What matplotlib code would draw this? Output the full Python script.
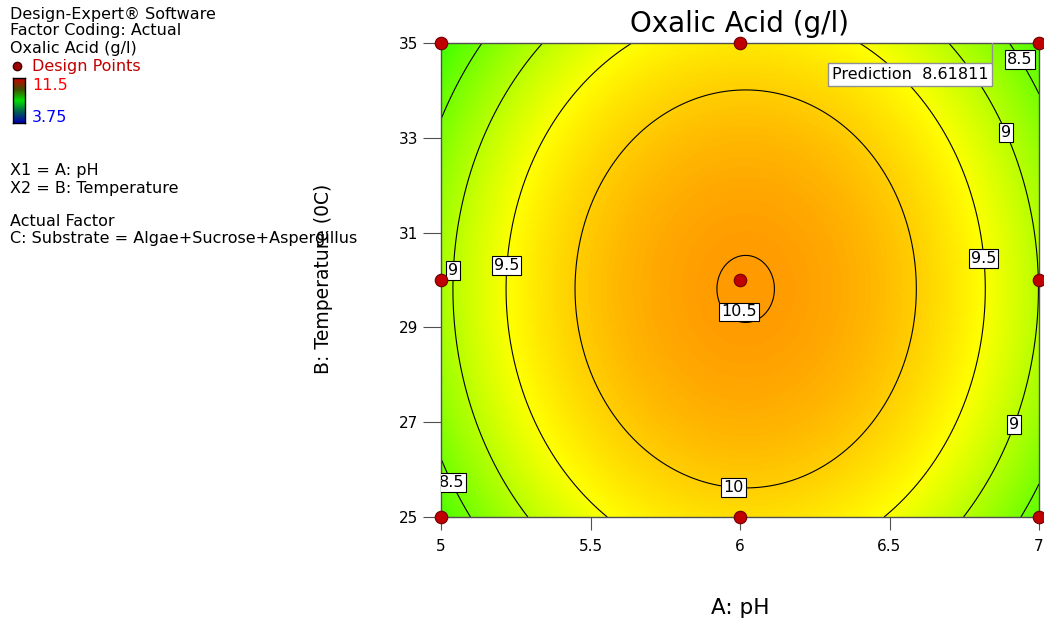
import numpy as np
import matplotlib
import matplotlib.pyplot as plt
from matplotlib.colors import LinearSegmentedColormap

matplotlib.use('Agg')

# factor ranges (actual units)
ph_range = [5.0, 7.0]
temp_range = [25.0, 35.0]

# fitted quadratic model in coded units (A = pH - 6, B = (T - 30) / 5)
b0 = 10.513
bA = 0.06
bB = -0.055
bAA = -1.58
bBB = -0.73
bAB = 0.0

# design points
design_ph = [5, 6, 7, 5, 6, 7, 5, 6, 7]
design_temp = [25, 25, 25, 30, 30, 30, 35, 35, 35]

contour_levels = [8.5, 9, 9.5, 10, 10.5]
color_low, color_high = 3.75, 11.5

x_ticks = [5, 5.5, 6, 6.5, 7]
y_ticks = [25, 27, 29, 31, 33, 35]

pred_ph, pred_temp, pred_value = 6.843, 35.0, 8.61811

# label spots for contour values
label_spots = [(6.0, 29.2), (5.98, 25.75), (5.214, 30.3), (6.81, 30.45),
               (5.047, 30.19), (6.886, 33.1), (6.926, 26.94),
               (6.943, 34.68), (5.067, 25.82)]

info_lines = ["Design-Expert\u00ae Software", "Factor Coding: Actual", "Oxalic Acid (g/l)"]
factor_lines = ["X1 = A: pH", "X2 = B: Temperature"]
actual_lines = ["Actual Factor", "C: Substrate = Algae+Sucrose+Aspergillus"]

W, H = 1044, 621
fig = plt.figure(figsize=(W / 100, H / 100), dpi=100)
ax = fig.add_axes([441 / W, 1 - 517 / H, 598 / W, 474 / H])

ph = np.linspace(ph_range[0], ph_range[1], 300)
temp = np.linspace(temp_range[0], temp_range[1], 300)
PH, T = np.meshgrid(ph, temp)
A = PH - 6.0
B = (T - 30.0) / 5.0
Z = b0 + bA * A + bB * B + bAA * A ** 2 + bBB * B ** 2 + bAB * A * B

cmap = LinearSegmentedColormap.from_list(
    'dx', [(0.0, '#0000FF'), (0.5, '#00FF00'), (0.745, '#FFFF00'),
           (0.88, '#FF9600'), (1.0, '#FF0000')])
ax.imshow(Z, origin='lower', extent=[ph_range[0], ph_range[1], temp_range[0], temp_range[1]],
          aspect='auto', cmap=cmap, vmin=color_low, vmax=color_high, interpolation='bilinear')

cs = ax.contour(PH, T, Z, levels=contour_levels, colors='black', linewidths=0.8)
labels = ax.clabel(cs, inline=False, fontsize=11.5, fmt=lambda v: '%g' % v, manual=label_spots)
for t in labels:
    t.set_rotation(0)
    t.set_bbox(dict(boxstyle='square,pad=0.12', facecolor='white', edgecolor='black', linewidth=0.8))
    t.set_zorder(5)
    if t.get_text() == '10.5':
        x, y = t.get_position()
        t.set_position((x, y + 0.2))

ax.plot(design_ph, design_temp, 'o', ms=9, color='#C00000', mec='#700000', mew=0.8,
        clip_on=False, zorder=10)

# prediction flag
ax.plot([pred_ph, pred_ph], [pred_temp, 34.58], color='#909090', lw=1, zorder=6)
ax.text(pred_ph - 0.012, 34.33, "Prediction  %g" % pred_value, ha='right', va='center',
        fontsize=11.5, zorder=7,
        bbox=dict(boxstyle='square,pad=0.25', facecolor='white', edgecolor='#909090', linewidth=1))

ax.set_xlim(ph_range)
ax.set_ylim(temp_range)
ax.set_xticks(x_ticks)
ax.set_xticklabels(['5', '5.5', '6', '6.5', '7'])
ax.set_yticks(y_ticks)
ax.tick_params(axis='x', length=9.5, pad=6.5, labelsize=11, color='#505050')
ax.tick_params(axis='y', length=13, pad=3.5, labelsize=11, color='#505050')
for sp in ax.spines.values():
    sp.set_color('#505050')
    sp.set_linewidth(1)

ax.text(0.5, 1 + 19 / 474, "Oxalic Acid (g/l)", transform=ax.transAxes, ha='center',
        va='center', fontsize=20)
ax.set_xlabel("A: pH", fontsize=15.5)
ax.xaxis.set_label_coords(0.5, -(598 - 517) / 474)
ax.set_ylabel("B: Temperature (0C)", fontsize=13.5)
ax.yaxis.set_label_coords((333 - 441) / 598, 0.502)


# left info block
def ftxt(px, py, s, **kw):
    fig.text(px / W, 1 - py / H, s, va='center', ha='left', fontsize=11.5, **kw)


for i, s in enumerate(info_lines):
    ftxt(10, 14 + 17 * i, s)
fig.add_artist(plt.Line2D([17 / W], [1 - 66 / H], marker='o', ms=6, color='#A00000',
                          mec='#400000', transform=fig.transFigure))
ftxt(32, 66, "Design Points", color='#C00000')
ftxt(32, 85, "11.5", color='#FF0000')
ftxt(32, 118, "3.75", color='#0000FF')
for i, s in enumerate(factor_lines):
    ftxt(10, 171 + 17 * i, s)
for i, s in enumerate(actual_lines):
    ftxt(10, 222 + 17 * i, s)

cax = fig.add_axes([13 / W, 1 - 123 / H, 12 / W, 45 / H])
bar_cmap = LinearSegmentedColormap.from_list(
    'bar', ['#0000B0', '#006050', '#00E000', '#405000', '#D00000'])
cax.imshow(np.linspace(0, 1, 100).reshape(-1, 1), origin='lower', aspect='auto', cmap=bar_cmap)
cax.set_xticks([])
cax.set_yticks([])
for sp in cax.spines.values():
    sp.set_color('black')
    sp.set_linewidth(1)

fig.savefig('out.png', dpi=100)
